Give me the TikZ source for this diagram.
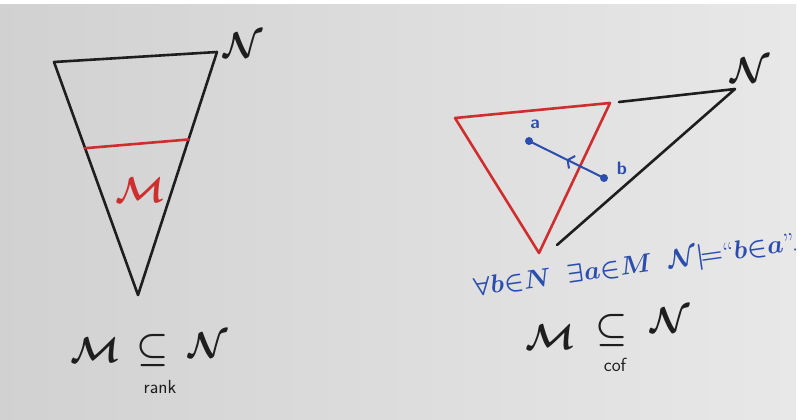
\RequirePackage{fix-cm}
\documentclass[tikz,border=0pt]{standalone}
\usepackage{amsmath,amssymb}
\usetikzlibrary{arrows.meta,calc,decorations.markings}
\definecolor{InkBlack}{HTML}{1E1E1E}
\definecolor{InkRed}{HTML}{CF2E2E}
\definecolor{InkBlue}{HTML}{2A4DAE}

\begin{document}
\begin{tikzpicture}[
  x=1pt,y=-1pt,
  pen/.style={draw=InkBlack,line width=2.6pt,line cap=round,line join=round},
  redpen/.style={pen,draw=InkRed},
  bluepen/.style={pen,draw=InkBlue,line width=2pt},
  dot/.style={circle,fill=InkBlue,inner sep=0pt,minimum size=8pt},
  big/.style={text=InkBlack,inner sep=0pt,font=\fontsize{36}{40}\selectfont\boldmath},
  small/.style={text=InkBlack,inner sep=0pt,font=\fontsize{19}{21}\selectfont\sffamily},
  lbl/.style={text=InkBlue,inner sep=0pt,font=\fontsize{18}{20}\selectfont\sffamily\bfseries},
  midarrow/.style={postaction={decorate},decoration={markings,
    mark=at position 0.5 with {\arrow{Straight Barb[length=5pt,width=14pt,line width=2pt]}}}}
]
\useasboundingbox (0,0) rectangle (798,420);
% whiteboard
\fill[white] (0,0) rectangle (798,420);
\fill[left color=gray!36,right color=gray!18] (0,5) rectangle (796,420);

% rank-initial segment
\coordinate (lTL) at (54,62);
\coordinate (lTR) at (217,52);
\coordinate (lBot) at (138,295);
\draw[pen] (lTL) -- (lTR) -- (lBot) -- cycle;
\draw[redpen] ($(lTL)!0.37!(lBot)$) -- ($(lTR)!0.36!(lBot)$);
\node[big,text=InkRed] (lM) at (140,190) {$\mathcal{M}$};
\node[big] (lNtop) at (243,45) {$\mathcal{N}$};

\node[big] (lMb) at (95,350) {$\mathcal{M}$};
\node[big] (lsub) at (153,350) {$\subseteq$};
\node[big] (lNb) at (208,345) {$\mathcal{N}$};
\node[small] (lrank) at (160,387) {rank};

% cofinal
\coordinate (rTL) at (455,118);
\coordinate (rTR) at (610,103);
\coordinate (rBot) at (539,253);
\draw[redpen] (rTL) -- (rTR) -- (rBot) -- cycle;
\coordinate (nStart) at (619,102);
\coordinate (nTip) at (735,89);
\coordinate (nEnd) at (557,245);
\draw[pen] (nStart) -- (nTip) -- (nEnd);
\node[big] (rNtop) at (750,70) {$\mathcal{N}$};

\node[dot] (a) at (529,141) {};
\node[dot] (b) at (604,178) {};
\node[lbl] (alab) at (535,124) {a};
\node[lbl] (blab) at (622,168) {b};
\draw[bluepen,midarrow] (b) -- (a);

\node[text=InkBlue,rotate=8,inner sep=0pt,font=\fontsize{26}{30}\selectfont\boldmath]
  (claim) at (636,267)
  {$\forall b{\in}N\;\;\exists a{\in}M\;\;\mathcal{N}{\models}$``$b{\in}a$''.};

\node[big] (rMb) at (550,337) {$\mathcal{M}$};
\node[big] (rsub) at (612,330) {$\subseteq$};
\node[big] (rNb) at (670,320) {$\mathcal{N}$};
\node[small] (rcof) at (615,365) {cof};
\end{tikzpicture}
\end{document}
